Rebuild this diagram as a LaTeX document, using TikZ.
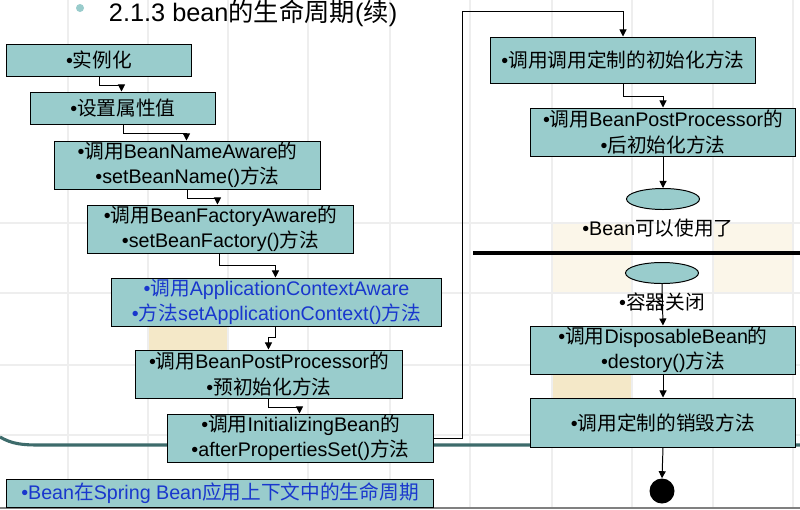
\documentclass[tikz,border=0pt]{standalone}
\usepackage{fontspec}
\setmainfont{Liberation Sans}
\newfontfamily\cjk{Noto Sans CJK SC}
\usetikzlibrary{arrows.meta,shapes.geometric,calc}
\definecolor{beanfill}{RGB}{153,204,204}
\definecolor{beanblue}{RGB}{25,55,205}
\definecolor{rulecol}{RGB}{61,107,107}
\definecolor{gridgray}{RGB}{238,238,238}
\definecolor{sand}{RGB}{244,232,200}
\definecolor{lightsand}{RGB}{251,246,233}
\newcommand{\bx}{\fontsize{14}{17.8}\selectfont}
\newcommand{\ttl}{\fontsize{18}{21}\selectfont}
\tikzset{
  stage/.style={draw, fill=beanfill, line width=0.7pt, align=center, inner sep=0pt, font=\bx},
  state/.style={draw, fill=beanfill, ellipse, line width=0.7pt, inner sep=0pt,
    minimum width=1.825cm, minimum height=0.525cm},
  flow/.style={line width=0.7pt, -{Triangle[length=5pt,width=5pt]}},
}

\begin{document}
\begin{tikzpicture}[x=0.025cm,y=-0.025cm]
  \useasboundingbox (0,0) rectangle (800,509);
  % background
  \fill[white] (0,0) rectangle (800,509);
  \fill[sand] (148,293) rectangle (228,365);
  \fill[lightsand] (552,223) rectangle (632,293);
  \fill[lightsand] (713,223) rectangle (793,293);
  \fill[sand] (552,365) rectangle (632,435);
  \foreach \gx in {68,148,228,308,390,470,552,632,713,793}
    \draw[gridgray, line width=1.5pt] (\gx,0) -- (\gx,509);
  \foreach \gy in {223,293,365,435}
    \draw[gridgray, line width=1.5pt] (0,\gy) -- (800,\gy);
  \draw[rulecol, line width=2.2pt] (0,437) .. controls (12,444) and (22,445) .. (40,445) -- (800,445);
  \draw[gray, line width=1pt] (0,508) -- (800,508);

  % title
  \fill[beanfill] (80,8) circle (0.1cm);
  \node[anchor=west, font=\ttl] (title) at (104,13) {2.1.3 bean{\cjk 的生命周期}({\cjk 续})};

  % left column
  \node[stage, minimum width=4.6cm, minimum height=0.8cm] (inst) at (99,60) {•{\cjk 实例化}};
  \node[stage, minimum width=4.6cm, minimum height=0.8cm] (props) at (123,108) {•{\cjk 设置属性值}};
  \node[stage, minimum width=6.625cm, minimum height=1.2cm] (nameaware) at (187.5,165)
    {•{\cjk 调用}BeanNameAware{\cjk 的}\\•setBeanName(){\cjk 方法}};
  \node[stage, minimum width=6.625cm, minimum height=1.2cm] (factaware) at (220.5,229)
    {•{\cjk 调用}BeanFactoryAware{\cjk 的}\\•setBeanFactory(){\cjk 方法}};
  \node[stage, text=beanblue, minimum width=8.225cm, minimum height=1.2cm] (ctxaware) at (276.5,302)
    {•{\cjk 调用}ApplicationContextAware\\•{\cjk 方法}setApplicationContext(){\cjk 方法}};
  \node[stage, minimum width=6.65cm, minimum height=1.2cm] (prebpp) at (269,374)
    {•{\cjk 调用}BeanPostProcessor{\cjk 的}\\•{\cjk 预初始化方法}};
  \node[stage, minimum width=6.625cm, minimum height=1.2cm] (initbean) at (300.5,438)
    {•{\cjk 调用}InitializingBean{\cjk 的}\\•afterPropertiesSet(){\cjk 方法}};
  \node[stage, text=beanblue, minimum width=10.65cm, minimum height=0.7cm] (caption) at (220,493)
    {•Bean{\cjk 在}Spring Bean{\cjk 应用上下文中的生命周期}};

  % right column
  \node[stage, minimum width=6.6cm, minimum height=1.15cm] (custinit) at (623,60)
    {•{\cjk 调用调用定制的初始化方法}};
  \node[stage, minimum width=6.6cm, minimum height=1.2cm] (postbpp) at (663,132)
    {•{\cjk 调用}BeanPostProcessor{\cjk 的}\\•{\cjk 后初始化方法}};
  \node[state] (ready) at (663,199) {};
  \node[font=\bx] (readytxt) at (658,228) {•Bean{\cjk 可以使用了}};
  \draw[line width=2.8pt] (473,253) -- (800,253);
  \node[state] (closed) at (662,273) {};
  \node[font=\bx] (closedtxt) at (662,302) {•{\cjk 容器关闭}};
  \node[stage, minimum width=6.6cm, minimum height=1.2cm] (dispose) at (663,350)
    {•{\cjk 调用}DisposableBean{\cjk 的}\\•destory(){\cjk 方法}};
  \node[stage, minimum width=6.6cm, minimum height=1.225cm] (custdestroy) at (663,422.5)
    {•{\cjk 调用定制的销毁方法}};
  \node[circle, fill=black, minimum size=0.625cm, inner sep=0pt] (finish) at (662,491) {};

  % connectors
  \draw[flow] ($(inst.south west)+(93,0)$) -- ++(0,9) -| ($(props.north west)+(91,0)$);
  \draw[flow] ($(props.south west)+(93,0)$) -- ++(0,9) -| ($(nameaware.north west)+(132,0)$);
  \draw[flow] ($(nameaware.south west)+(133,0)$) -- ++(0,9) -| ($(factaware.north west)+(130,0)$);
  \draw[flow] ($(factaware.south west)+(132,0)$) -- ++(0,12) -| ($(ctxaware.north west)+(164,0)$);
  \draw[flow] ($(ctxaware.south west)+(164,0)$) -- ++(0,11) -| ($(prebpp.north west)+(133,0)$);
  \draw[flow] ($(prebpp.south west)+(133,0)$) -- ++(0,9) -| ($(initbean.north west)+(132,0)$);
  \draw[flow] (initbean.east) -- ++(29,0) |- ($(custinit.north)+(0,-25)$) -- (custinit.north);
  \draw[flow] (custinit.south) -- ++(0,13) -| (postbpp.north);
  \draw[flow] (postbpp.south) -- (ready.north);
  \draw[flow] (closed.south) -- (dispose.north);
  \draw[flow] (dispose.south) -- (custdestroy.north);
  \draw[flow] (custdestroy.south) -- (finish.north);
\end{tikzpicture}
\end{document}
